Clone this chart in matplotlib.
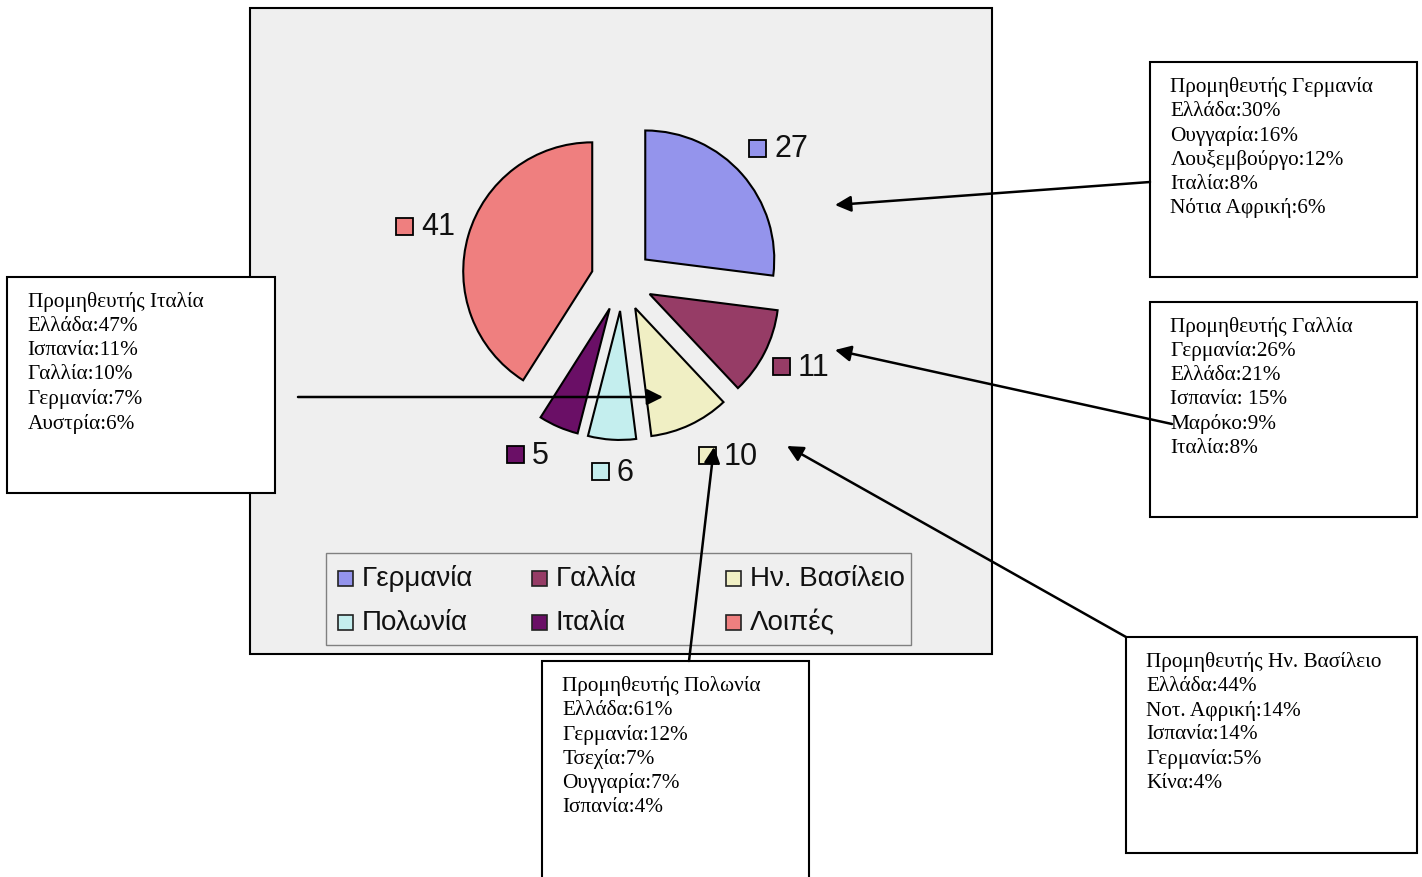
import numpy as np
import matplotlib.pyplot as plt
from matplotlib.patches import Rectangle

# pie data
countries = ['Γερμανία', 'Γαλλία', 'Ην. Βασίλειο', 'Πολωνία', 'Ιταλία', 'Λοιπές']
shares = [27, 11, 10, 6, 5, 41]
colors = ['#9494ec', '#963c66', '#f0efc4', '#c4eeee', '#6a0f66', '#ef7f7f']

# supplier boxes text
germany_lines = ['Προμηθευτής Γερμανία', 'Ελλάδα:30%', 'Ουγγαρία:16%',
                 'Λουξεμβούργο:12%', 'Ιταλία:8%', 'Νότια Αφρική:6%']
france_lines = ['Προμηθευτής Γαλλία', 'Γερμανία:26%', 'Ελλάδα:21%',
                'Ισπανία: 15%', 'Μαρόκο:9%', 'Ιταλία:8%']
italy_lines = ['Προμηθευτής Ιταλία', 'Ελλάδα:47%', 'Ισπανία:11%',
               'Γαλλία:10%', 'Γερμανία:7%', 'Αυστρία:6%']
poland_lines = ['Προμηθευτής Πολωνία', 'Ελλάδα:61%', 'Γερμανία:12%',
                'Τσεχία:7%', 'Ουγγαρία:7%', 'Ισπανία:4%']
uk_lines = ['Προμηθευτής Ην. Βασίλειο', 'Ελλάδα:44%', 'Νοτ. Αφρική:14%',
            'Ισπανία:14%', 'Γερμανία:5%', 'Κίνα:4%']

W, H = 1422, 877
fig = plt.figure(figsize=(W / 100, H / 100), dpi=100)
ax = fig.add_axes([0, 0, 1, 1])

sans = 'Liberation Sans'
serif = 'Liberation Serif'

# gray chart area
ax.add_patch(Rectangle((250, 8), 742, 646, facecolor='#efefef',
                       edgecolor='black', lw=1.5, zorder=0))

# exploded pie (y axis runs downward, so angles are mirrored)
center = (622, 280)
radius = 129
wedges, _ = ax.pie(shares, colors=colors, startangle=-90, counterclock=True,
                   explode=[31] * len(shares), radius=radius, center=center,
                   wedgeprops=dict(edgecolor='black', linewidth=1.5))
for w in wedges:
    w.set_zorder(2)

# data labels: colour key + value, placed just outside each slice
label_origin = (center[0] + 3, center[1] + 4)
label_nudge = [0, -2, -6, 0, 6, 0]   # degrees, to keep labels apart
label_pull = [0, -11, 0, 0, 0, 0]    # radial tweak
for w, val, col, nd, pl in zip(wedges, shares, colors, label_nudge, label_pull):
    th = np.deg2rad((w.theta1 + w.theta2) / 2 + nd)
    tw = 17 * len(str(val))
    total = 17 + 9 + tw
    ext = abs(np.cos(th)) * total / 2 + abs(np.sin(th)) * 12
    d = 175 + pl + ext
    px = label_origin[0] + d * np.cos(th)
    py = label_origin[1] + d * np.sin(th)
    left = px - total / 2
    ax.add_patch(Rectangle((left, py - 8.5), 17, 17, facecolor=col,
                           edgecolor='black', lw=1.3, zorder=3))
    ax.text(left + 25, py + 1, str(val), fontsize=22, family=sans,
            ha='left', va='center', color='#111111', zorder=3)

# legend
ax.add_patch(Rectangle((326, 553), 585, 92, facecolor='#efefef',
                       edgecolor='#808080', lw=1, zorder=2))
for i, (name, col) in enumerate(zip(countries, colors)):
    r, c = divmod(i, 3)
    lx = 345 + c * 194
    ly = 578 + r * 44
    ax.add_patch(Rectangle((lx - 7.5, ly - 7.5), 15, 15, facecolor=col,
                           edgecolor='#222222', lw=1.2, zorder=3))
    ax.text(lx + 17, ly + 1, name, fontsize=20, family=sans,
            ha='left', va='center', color='#111111', zorder=3)

# supplier text boxes
boxes = [
    (1150, 62, 267, 215, germany_lines),
    (1150, 302, 267, 215, france_lines),
    (7, 277, 268, 216, italy_lines),
    (542, 661, 267, 230, poland_lines),
    (1126, 637, 291, 216, uk_lines),
]
for bx, by, bw, bh, lines in boxes:
    ax.add_patch(Rectangle((bx, by), bw, bh, facecolor='white',
                           edgecolor='black', lw=1.5, zorder=4))
    for k, line in enumerate(lines):
        ax.text(bx + 20.5, by + 25 + k * 24.3, line, fontsize=15.3,
                family=serif, ha='left', va='center', color='black', zorder=5)

# arrows from the boxes to the slices
arrows = [
    ((1150, 182), (835, 205)),
    ((1172, 424), (835, 350)),
    ((298, 397), (663, 397)),
    ((689, 661), (714, 447)),
    ((1126, 637), (787, 446)),
]
for tail, head in arrows:
    ax.annotate('', xy=head, xytext=tail, zorder=6,
                arrowprops=dict(arrowstyle='-|>', color='black', lw=1.8,
                                mutation_scale=24, shrinkA=0, shrinkB=0))

ax.set_xlim(0, W)
ax.set_ylim(H, 0)
ax.set_aspect('auto')
ax.axis('off')

fig.savefig('out.png', dpi=100, facecolor='white')
